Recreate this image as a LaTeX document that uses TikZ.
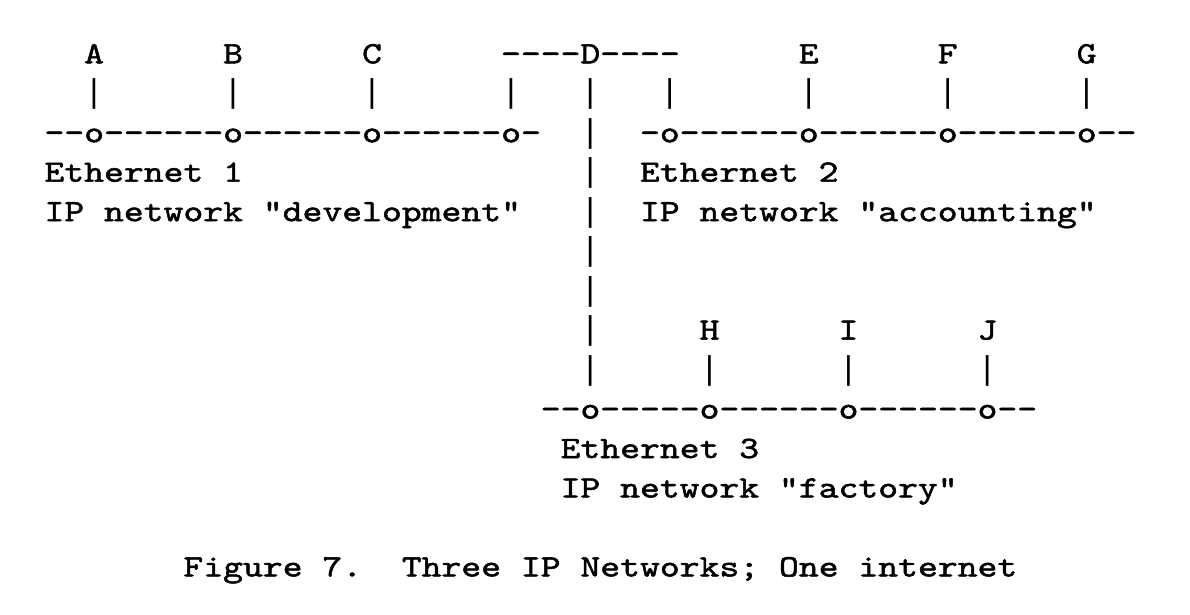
\documentclass[tikz,border=0pt]{standalone}
\font\cour="[lmmono10-regular.otf]:extend=1.22;embolden=1.6" at 31pt
\font\barfont="Liberation Mono" at 33pt
\newcommand\cw{19.85}
\newcommand\xo{44.5}
\tikzset{tt/.style={anchor=base west, inner sep=0pt, outer sep=0pt, font=\cour},
  bar/.style={tt, font=\barfont}}
\newcommand\T[4]{\node[tt] (#1) at ({\xo+#2*\cw},{614-(63.3+(#3-1)*39.47)}) {#4};}
\newcommand\V[3]{\node[bar] (#1) at ({\xo+#2*\cw},{614-(63.3+(#3-1)*39.47)}) {|};}
\begin{document}
\begin{tikzpicture}[x=1pt,y=1pt]
\fill[white] (0,0) rectangle (1190,614);
\useasboundingbox (0,0) rectangle (1190,614);
% row 1
\T{A}{2}{1}{A}
\T{B}{9}{1}{B}
\T{C}{16}{1}{C}
\T{D}{23}{1}{----D----}
\T{E}{38}{1}{E}
\T{F}{45}{1}{F}
\T{G}{52}{1}{G}
% row 2
\V{a2}{2}{2}
\V{b2}{9}{2}
\V{c2}{16}{2}
\V{dl2}{23}{2}
\V{d2}{27}{2}
\V{dr2}{31}{2}
\V{e2}{38}{2}
\V{f2}{45}{2}
\V{g2}{52}{2}
% row 3
\T{eth1}{0}{3}{--o------o------o------o-}
\V{d3}{27}{3}
\T{eth2}{30}{3}{-o------o------o------o--}
% row 4
\T{e1name}{0}{4}{Ethernet~1}
\V{d4}{27}{4}
\T{e2name}{30}{4}{Ethernet~2}
% row 5
\T{ip1}{0}{5}{IP~network~"development"}
\V{d5}{27}{5}
\T{ip2}{30}{5}{IP~network~"accounting"}
% rows 6-9
\V{d6}{27}{6}
\V{d7}{27}{7}
\V{d8}{27}{8}
\T{H}{33}{8}{H}
\T{I}{40}{8}{I}
\T{J}{47}{8}{J}
\V{d9}{27}{9}
\V{h9}{33}{9}
\V{i9}{40}{9}
\V{j9}{47}{9}
% row 10-12
\T{eth3}{25}{10}{--o-----o------o------o--}
\T{e3name}{26}{11}{Ethernet~3}
\T{ip3}{26}{12}{IP~network~"factory"}
% caption
\T{fig}{7}{14}{Figure~7.}
\T{cap}{18}{14}{Three~IP~Networks;~One~internet}
\end{tikzpicture}
\end{document}
